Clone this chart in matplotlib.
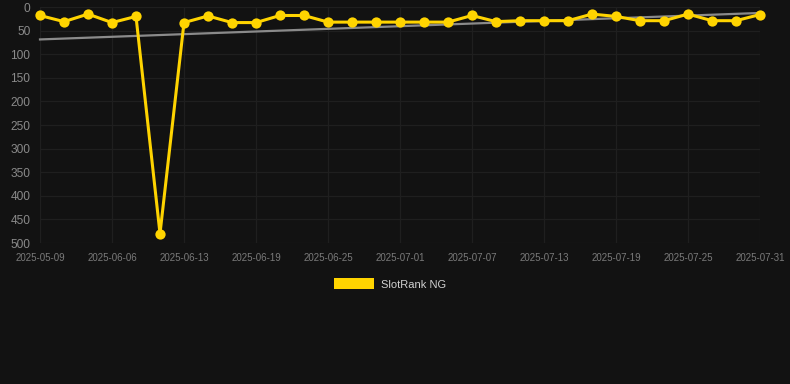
import matplotlib
matplotlib.use("Agg")
import matplotlib.pyplot as plt
from matplotlib.patches import Patch
import numpy as np

dates = ["2025-05-09", "2025-05-20", "2025-05-30", "2025-06-06", "2025-06-08", "2025-06-11",
         "2025-06-13", "2025-06-15", "2025-06-17", "2025-06-19", "2025-06-21", "2025-06-23",
         "2025-06-25", "2025-06-27", "2025-06-29", "2025-07-01", "2025-07-03", "2025-07-05",
         "2025-07-07", "2025-07-09", "2025-07-11", "2025-07-13", "2025-07-15", "2025-07-17",
         "2025-07-19", "2025-07-21", "2025-07-23", "2025-07-25", "2025-07-27", "2025-07-29",
         "2025-07-31"]
ranks = [18, 31, 15, 33, 20, 480, 33, 19, 33, 33, 18, 18, 32, 32, 32, 32, 32, 32,
         18, 31, 29, 29, 29, 15, 20, 29, 29, 15, 29, 29, 16]
series_name = "SlotRank NG"
y_ticks = [0, 50, 100, 150, 200, 250, 300, 350, 400, 450, 500]

BG = "#121212"
GOLD = "#FFD400"
GRID = "#1f1f1f"

W, H = 790, 384
fig = plt.figure(figsize=(W / 100, H / 100), dpi=100, facecolor=BG)
ax = fig.add_axes([40 / W, 1 - 243 / H, 720 / W, 236 / H], facecolor=BG)

x = np.arange(len(dates))
y = np.array(ranks, dtype=float)

# trend line (linear regression)
k, b = np.polyfit(x, y, 1)
ax.plot(x, k * x + b, color="#8a8a8a", lw=1.6, zorder=2, clip_on=False)

ax.plot(x, y, color=GOLD, lw=2.2, marker="o", ms=7.4, markeredgewidth=0,
        solid_joinstyle="miter", zorder=3, clip_on=False)

ax.set_xlim(0, len(dates) - 1)
ax.set_ylim(500, 0)
ax.set_yticks(y_ticks)
ax.set_yticklabels([str(t) for t in y_ticks])
ax.set_xticks(x[::3])
ax.set_xticklabels([dates[i] for i in range(0, len(dates), 3)])

ax.grid(True, color=GRID, lw=0.9)
ax.set_axisbelow(True)
for s in ax.spines.values():
    s.set_visible(False)
ax.tick_params(axis="y", length=0, pad=7, labelsize=8.6, labelcolor="#8a8a8a")
ax.tick_params(axis="x", length=0, pad=7, labelsize=7, labelcolor="#7a7a7a")
for lbl in ax.get_yticklabels():
    lbl.set_fontfamily("Liberation Sans")
for lbl in ax.get_xticklabels():
    lbl.set_fontfamily("Liberation Sans")

leg = fig.legend(handles=[Patch(facecolor=GOLD, edgecolor="none", label=series_name)],
                 loc="center", bbox_to_anchor=(390 / W, 1 - 284 / H),
                 frameon=False, handlelength=3.6, handleheight=1.1,
                 handletextpad=0.6, prop={"family": "Liberation Sans", "size": 8})
for t in leg.get_texts():
    t.set_color("#d0d0d0")

fig.savefig("out.png", dpi=100, facecolor=BG)
